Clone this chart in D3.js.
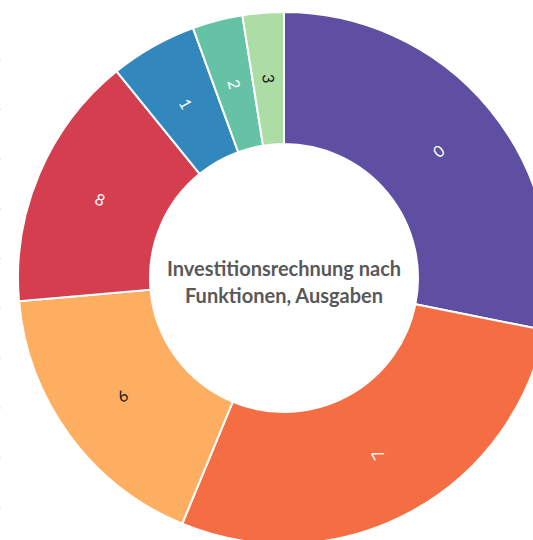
<!DOCTYPE html>
<html>
<head>
<meta charset="utf-8">
<script src="https://cdn.jsdelivr.net/npm/d3@7"></script>
<style>
  body { margin: 0; background: #fff; }
  svg { display: block; }
</style>
</head>
<body>
<div id="chart"></div>
<script>
// slices in drawing order (clockwise from 12 o'clock)
var labels = ["0", "7", "6", "8", "1", "2", "3"];
var values = [101.3, 101.2, 62.5, 56, 19, 11, 9];
var colors = ["#5e4fa2", "#f46d43", "#fdae61", "#d53e4f", "#3288bd", "#66c2a5", "#abdda4"];
var labelColors = ["#fff", "#fff", "#222", "#fff", "#fff", "#fff", "#222"];
var titleLines = ["Investitionsrechnung nach", "Funktionen, Ausgaben"];

var w = 533;
var h = 540;
var cx = 284, cy = 278;
var outerR = 266, innerR = 134;

var data = labels.map(function(l, i) {
    return { label: l, value: values[i], color: colors[i], textColor: labelColors[i] };
});

var svg = d3.select("#chart")
    .append("svg")
    .attr("width", w)
    .attr("height", h);

// faint leftover axis ticks on the left edge
var tickScale = d3.scaleLinear().domain([0, 9]).range([59, 507]);
svg.append("g")
    .attr("transform", "translate(-4,0)")
    .call(d3.axisRight(tickScale).ticks(9).tickSize(5).tickFormat(""))
    .call(function(g) {
        g.select(".domain").remove();
        g.selectAll("line").attr("stroke", "#d8d8d8");
    });

var pie = d3.pie()
    .sort(null)
    .value(function(d) { return d.value; });

var arc = d3.arc()
    .innerRadius(innerR)
    .outerRadius(outerR);

var g = svg.append("g")
    .attr("transform", "translate(" + cx + "," + cy + ")");

var slices = g.selectAll(".slice")
    .data(pie(data))
    .enter()
    .append("g")
    .attr("class", "slice");

slices.append("path")
    .attr("d", arc)
    .attr("fill", function(d) { return d.data.color; })
    .attr("stroke", "#fff")
    .attr("stroke-width", 2);

slices.append("text")
    .attr("transform", function(d) {
        var c = arc.centroid(d);
        var mid = (d.startAngle + d.endAngle) / 2 * 180 / Math.PI;
        return "translate(" + c[0] + "," + c[1] + ") rotate(" + (mid + 90) + ")";
    })
    .attr("text-anchor", "middle")
    .attr("dy", "0.35em")
    .attr("fill", function(d) { return d.data.textColor; })
    .style("font-family", "Lato, 'Open Sans', sans-serif")
    .style("font-size", "16px")
    .text(function(d) { return d.data.label; });

// centre title
g.append("text")
    .attr("text-anchor", "middle")
    .attr("fill", "#595959")
    .style("font-family", "Lato, 'Open Sans', sans-serif")
    .style("font-weight", "bold")
    .style("font-size", "20px")
    .selectAll("tspan")
    .data(titleLines)
    .enter()
    .append("tspan")
    .attr("x", 0)
    .attr("y", function(d, i) { return -2 + i * 27; })
    .text(function(d) { return d; });
</script>
</body>
</html>
